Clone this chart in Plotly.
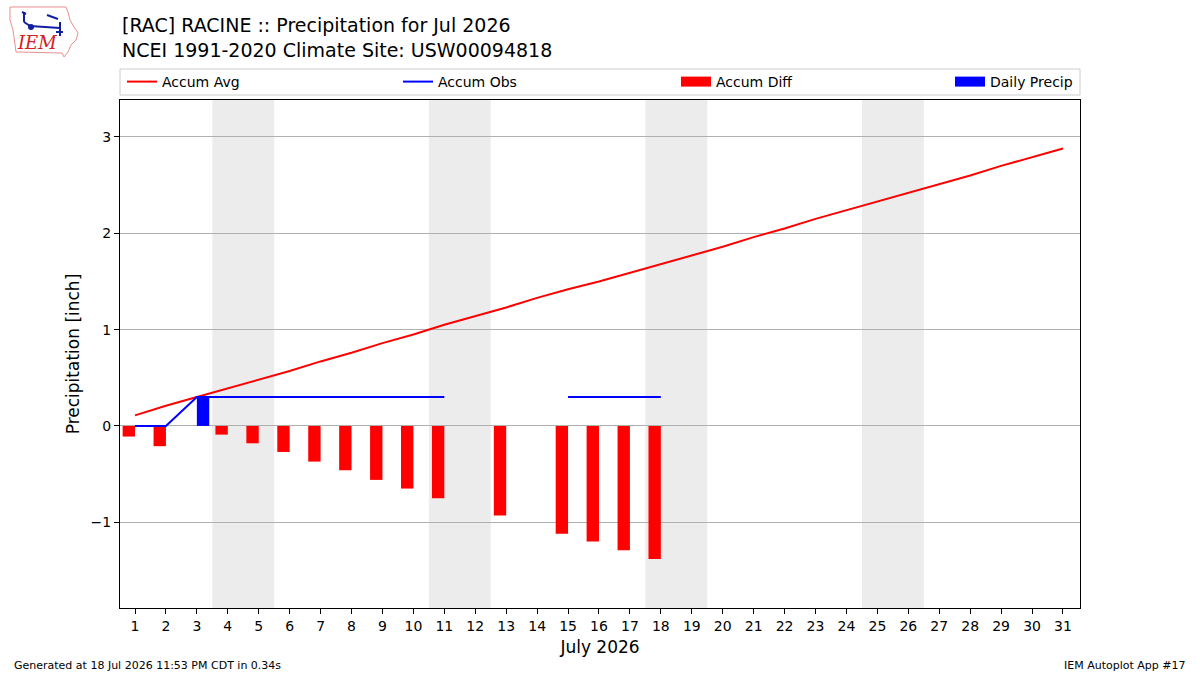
import plotly.graph_objects as go

days = list(range(1, 32))
accum_avg = [0.11, 0.21, 0.30, 0.39, 0.48, 0.57, 0.67, 0.76, 0.86, 0.95,
             1.05, 1.14, 1.23, 1.33, 1.42, 1.50, 1.59, 1.68, 1.77, 1.86,
             1.96, 2.05, 2.15, 2.24, 2.33, 2.42, 2.51, 2.60, 2.70, 2.79, 2.88]
obs_days = [1, 2, 3, 4, 5, 6, 7, 8, 9, 10, 11, 12, 13, 14, 15, 16, 17, 18]
accum_obs = [0.0, 0.0, 0.30, 0.30, 0.30, 0.30, 0.30, 0.30, 0.30, 0.30, 0.30,
             None, 0.30, None, 0.30, 0.30, 0.30, 0.30]
accum_diff = [-0.11, -0.21, 0.0, -0.09, -0.18, -0.27, -0.37, -0.46, -0.56, -0.65,
              -0.75, None, -0.93, None, -1.12, -1.20, -1.29, -1.38]
daily_precip = [0.0, 0.0, 0.30, 0.0, 0.0, 0.0, 0.0, 0.0, 0.0, 0.0, 0.0,
                None, 0.0, None, 0.0, 0.0, 0.0, 0.0]
weekends = [(3.5, 5.5), (10.5, 12.5), (17.5, 19.5), (24.5, 26.5)]

FONT = "DejaVu Sans"
L, R, T, B = 120, 120, 100, 67
W, H = 1200, 675
PW, PH = W - L - R, H - T - B


def paper(xp, yp):
    return (xp - L) / PW, (H - B - yp) / PH


fig = go.Figure()

fig.add_trace(go.Scatter(x=days, y=accum_avg, mode="lines", name="Accum Avg",
                         line=dict(color="red", width=2), legend="legend"))
fig.add_trace(go.Scatter(x=obs_days, y=accum_obs, mode="lines", name="Accum Obs",
                         line=dict(color="blue", width=2), connectgaps=False,
                         legend="legend2"))
fig.add_trace(go.Bar(x=obs_days, y=accum_diff, name="Accum Diff",
                     marker=dict(color="red", line=dict(width=0)),
                     width=0.4, offset=-0.4, showlegend=False))
fig.add_trace(go.Bar(x=obs_days, y=daily_precip, name="Daily Precip",
                     marker=dict(color="blue", line=dict(width=0)),
                     width=0.4, offset=0.0, showlegend=False))
# legend proxies for the bars (wide rectangle patches)
fig.add_trace(go.Scatter(x=[None], y=[None], mode="lines", name="Accum Diff",
                         line=dict(color="red", width=10), legend="legend3"))
fig.add_trace(go.Scatter(x=[None], y=[None], mode="lines", name="Daily Precip",
                         line=dict(color="blue", width=10), legend="legend4"))

for a, b in weekends:
    fig.add_vrect(x0=a, x1=b, fillcolor="#ececec", line_width=0, layer="below")

# legend frame
x0, y0 = paper(120, 95)
x1, y1 = paper(1080, 69)
fig.add_shape(type="rect", xref="paper", yref="paper", x0=x0, y0=y0, x1=x1, y1=y1,
              line=dict(color="#cccccc", width=1), fillcolor="white", layer="below")

# titles
tx, ty = paper(120, 12)
fig.add_annotation(text="[RAC] RACINE :: Precipitation for Jul 2026<br>NCEI 1991-2020 Climate Site: USW00094818",
                   xref="paper", yref="paper", x=tx, y=ty,
                   xanchor="left", yanchor="top", align="left", showarrow=False,
                   font=dict(family=FONT, size=19, color="black"))
fx, fy = paper(12, 665)
fig.add_annotation(text="Generated at 18 Jul 2026 11:53 PM CDT in 0.34s",
                   xref="paper", yref="paper", x=fx, y=fy,
                   xanchor="left", yanchor="middle", showarrow=False,
                   font=dict(family=FONT, size=11, color="black"))
gx, gy = paper(1188, 665)
fig.add_annotation(text="IEM Autoplot App #17",
                   xref="paper", yref="paper", x=gx, y=gy,
                   xanchor="right", yanchor="middle", showarrow=False,
                   font=dict(family=FONT, size=11, color="black"))
# logo approximation
lx, ly = paper(37, 43)
fig.add_annotation(text="<i>IEM</i>", xref="paper", yref="paper",
                   x=lx, y=ly, xanchor="center", yanchor="middle",
                   showarrow=False, font=dict(family="DejaVu Serif", size=18, color="#d42020"))
pts = [(10, 7), (66, 7), (68, 12), (70, 20), (74, 27), (78, 33), (76, 40), (71, 45),
       (68, 52), (64, 57), (62, 53), (16, 52), (15, 44), (13, 30), (10, 20)]
path = "M " + " L ".join(f"{paper(a, b)[0]:.4f},{paper(a, b)[1]:.4f}" for a, b in pts) + " Z"
fig.add_shape(type="path", path=path, xref="paper", yref="paper",
              line=dict(color="#e89090", width=1))
icon = [(30, 26, 60, 28), (60, 22, 60, 36), (47, 15, 58, 19), (24, 12, 24, 22),
        (22, 12, 26, 14), (24, 22, 30, 26), (56, 32, 63, 32)]
for a, b, c, d in icon:
    p0 = paper(a, b)
    p1 = paper(c, d)
    fig.add_shape(type="line", xref="paper", yref="paper", x0=p0[0], y0=p0[1],
                  x1=p1[0], y1=p1[1], line=dict(color="#1020a0", width=2))
c0 = paper(28, 24)
c1 = paper(34, 30)
fig.add_shape(type="circle", xref="paper", yref="paper", x0=c0[0], y0=c0[1],
              x1=c1[0], y1=c1[1], fillcolor="#1020a0", line=dict(width=0))

legend_common = dict(orientation="h", yanchor="middle", xanchor="left",
                     bgcolor="rgba(0,0,0,0)", borderwidth=0,
                     font=dict(family=FONT, size=14, color="black"))
ly_leg = paper(0, 82)[1]
legend_x = [paper(122, 0)[0], paper(398, 0)[0], paper(676, 0)[0], paper(950, 0)[0]]

fig.update_layout(
    width=W, height=H,
    margin=dict(l=L, r=R, t=T, b=B),
    paper_bgcolor="white", plot_bgcolor="white",
    barmode="overlay",
    font=dict(family=FONT, size=14, color="black"),
    showlegend=True,
    legend=dict(x=legend_x[0], y=ly_leg, **legend_common),
    legend2=dict(x=legend_x[1], y=ly_leg, **legend_common),
    legend3=dict(x=legend_x[2], y=ly_leg, **legend_common),
    legend4=dict(x=legend_x[3], y=ly_leg, **legend_common),
    xaxis=dict(range=[0.515, 31.55], tickmode="array", tickvals=days,
               ticks="outside", ticklen=5, tickcolor="black",
               showline=True, linecolor="black", linewidth=1, mirror=True,
               showgrid=False, zeroline=False,
               title=dict(text="July 2026", font=dict(family=FONT, size=17), standoff=8),
               tickfont=dict(family=FONT, size=14)),
    yaxis=dict(range=[-1.89, 3.384], tickvals=[-1, 0, 1, 2, 3],
               ticks="outside", ticklen=5, tickcolor="black",
               showline=True, linecolor="black", linewidth=1, mirror=True,
               showgrid=True, gridcolor="#b0b0b0", gridwidth=1, zeroline=False,
               title=dict(text="Precipitation [inch]", font=dict(family=FONT, size=17), standoff=6),
               tickfont=dict(family=FONT, size=14)),
)

fig.write_html("out.html")
